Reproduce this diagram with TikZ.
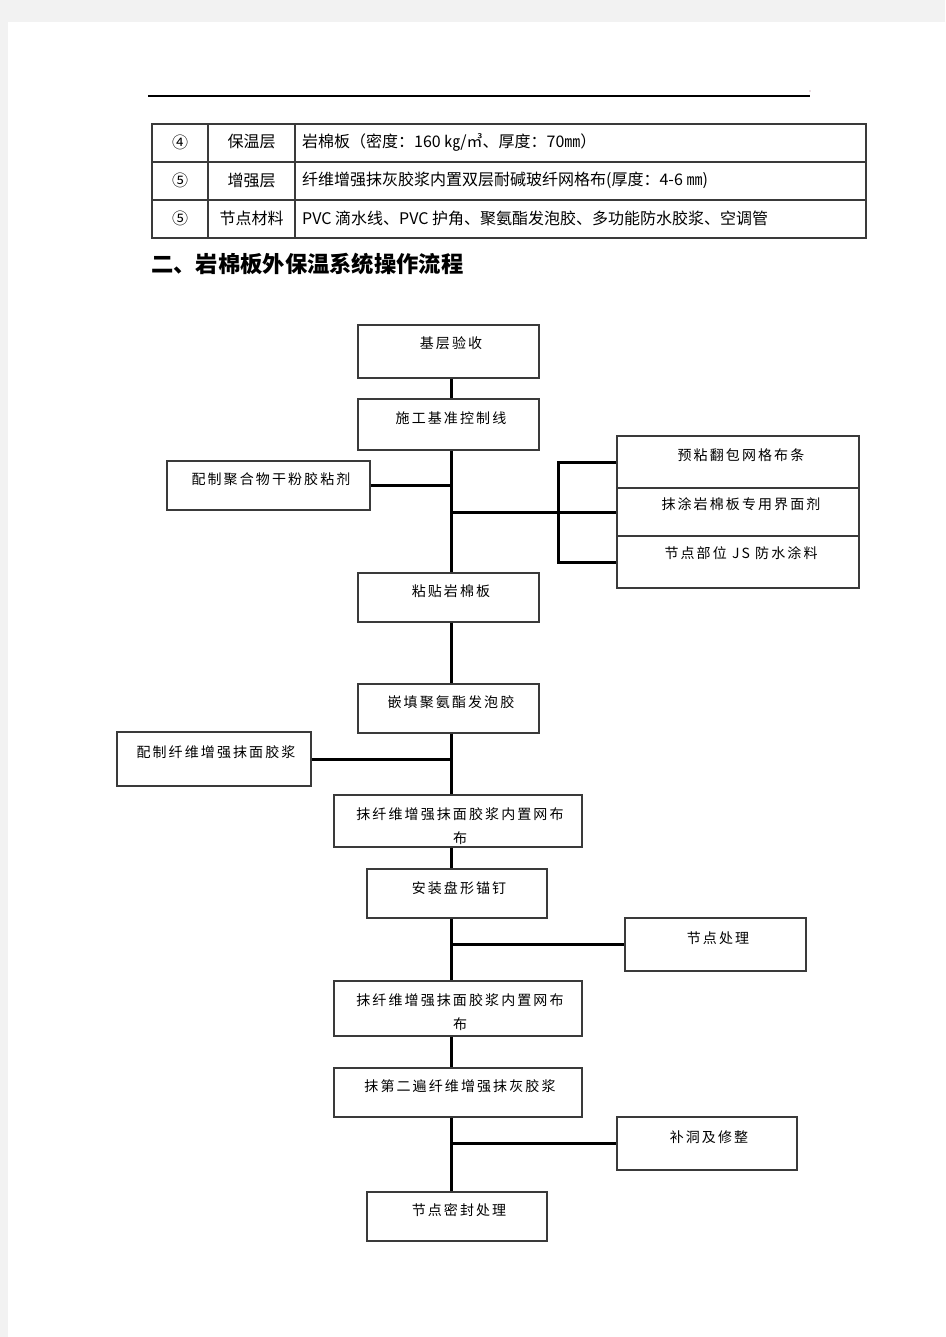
\documentclass[tikz,border=0pt]{standalone}
\usepackage{fontspec}
\newfontfamily\cjk{Noto Sans CJK SC}
\newfontfamily\cjkbox[LetterSpace=15]{Noto Sans CJK SC}
\usetikzlibrary{calc}
\definecolor{pagegray}{HTML}{F2F2F2}
\definecolor{edge}{HTML}{3A3A3A}
\begin{document}
\begin{tikzpicture}[x=1pt,y=-1pt,
  box/.style={draw=edge, line width=1.3pt, rectangle, inner sep=0pt},
  boxtext/.style={font=\cjkbox\fontsize{14}{24}\selectfont, inner sep=0pt, align=center},
  conn/.style={line width=3pt, black},
  tbl/.style={draw=edge, line width=1.3pt},
  tbltext/.style={font=\cjk\fontsize{16}{18}\selectfont, inner sep=0pt}]
\fill[pagegray] (0,0) rectangle (945,1337);
\fill[white] (8,22) rectangle (945,1337);
\useasboundingbox (0,0) rectangle (945,1337);

% header rule
\draw[line width=1.2pt] (148,96) -- (810,96);
\fill[orange!60!blue!40] (810,91) circle (0.9);

% table
\draw[tbl] (152,124) rectangle (866,238);
\draw[tbl] (152,162) -- (866,162);
\draw[tbl] (152,200) -- (866,200);
\draw[tbl] (208,124) -- (208,238);
\draw[tbl] (295,124) -- (295,238);
\node[tbltext] (n1) at (180,142) {④};
\node[tbltext] (n2) at (180,180) {⑤};
\node[tbltext] (n3) at (180,218) {⑤};
\node[tbltext] (c1) at (251.5,142) {保温层};
\node[tbltext] (c2) at (251.5,180) {增强层};
\node[tbltext] (c3) at (251.5,218) {节点材料};
\node[tbltext, anchor=west] (d1) at (302,142) {岩棉板（密度：160 ㎏/㎥、厚度：70㎜）};
\node[tbltext, anchor=west] (d2) at (302,180) {纤维增强抹灰胶浆内置双层耐碱玻纤网格布(厚度：4-6 ㎜)};
\node[tbltext, anchor=west] (d3) at (302,218) {PVC 滴水线、PVC 护角、聚氨酯发泡胶、多功能防水胶浆、空调管};

% title
\node[font=\cjk\bfseries\fontsize{22.3}{24}\selectfont, anchor=west, inner sep=0pt] (title) at (151,264) {二、岩棉板外保温系统操作流程};

% flow boxes
\node[box, minimum width=181, minimum height=53] (b1) at (448.5,351.5) {};
\node[boxtext] (t1) at (451,343) {基层验收};
\node[box, minimum width=181, minimum height=51] (b2) at (448.5,424.5) {};
\node[boxtext] (t2) at (451,418) {施工基准控制线};
\node[box, minimum width=203, minimum height=49] (b3) at (268.5,485.5) {};
\node[boxtext] (t3) at (271,479) {配制聚合物干粉胶粘剂};
\node[box, minimum width=242, minimum height=52] (r1) at (738,462) {};
\node[boxtext] (tr1) at (741,455) {预粘翻包网格布条};
\node[box, minimum width=242, minimum height=48] (r2) at (738,512) {};
\node[boxtext] (tr2) at (741,504) {抹涂岩棉板专用界面剂};
\node[box, minimum width=242, minimum height=52] (r3) at (738,562) {};
\node[boxtext] (tr3) at (741,553) {节点部位 JS 防水涂料};
\node[box, minimum width=181, minimum height=49] (b5) at (448.5,597.5) {};
\node[boxtext] (t5) at (451,591) {粘贴岩棉板};
\node[box, minimum width=181, minimum height=49] (b6) at (448.5,708.5) {};
\node[boxtext] (t6) at (451,702) {嵌填聚氨酯发泡胶};
\node[box, minimum width=194, minimum height=54] (b7) at (214,759) {};
\node[boxtext] (t7) at (216,752) {配制纤维增强抹面胶浆};
\node[box, minimum width=248, minimum height=52] (b8) at (458,821) {};
\node[boxtext] (t8) at (460,826) {抹纤维增强抹面胶浆内置网布\\布};
\node[box, minimum width=180, minimum height=49] (b9) at (457,893.5) {};
\node[boxtext] (t9) at (459,888) {安装盘形锚钉};
\node[box, minimum width=181, minimum height=53] (b10) at (715.5,944.5) {};
\node[boxtext] (t10) at (718,938) {节点处理};
\node[box, minimum width=248, minimum height=55] (b11) at (458,1008.5) {};
\node[boxtext] (t11) at (460,1012) {抹纤维增强抹面胶浆内置网布\\布};
\node[box, minimum width=248, minimum height=49] (b12) at (458,1092.5) {};
\node[boxtext] (t12) at (460,1086) {抹第二遍纤维增强抹灰胶浆};
\node[box, minimum width=180, minimum height=53] (b13) at (707,1143.5) {};
\node[boxtext] (t13) at (709,1137) {补洞及修整};
\node[box, minimum width=180, minimum height=49] (b14) at (457,1216.5) {};
\node[boxtext] (t14) at (459,1210) {节点密封处理};

% connectors
\coordinate (spine) at (451,0);
\coordinate (bk) at (558.5,0);
\draw[conn] (b1.south -| spine) -- (b2.north -| spine);
\draw[conn] (b2.south -| spine) -- (b5.north -| spine);
\draw[conn] (b3.east) -- (b3.east -| spine);
\draw[conn] (spine |- r2.west) -- (r2.west);
\draw[conn] (r1.west) -- (r1.west -| bk) -- (r3.west -| bk) -- (r3.west);
\draw[conn] (b5.south -| spine) -- (b6.north -| spine);
\draw[conn] (b6.south -| spine) -- (b8.north -| spine);
\draw[conn] (b7.east) -- (b7.east -| spine);
\draw[conn] (b8.south -| spine) -- (b9.north -| spine);
\draw[conn] (b9.south -| spine) -- (b11.north -| spine);
\draw[conn] (spine |- b10.west) -- (b10.west);
\draw[conn] (b11.south -| spine) -- (b12.north -| spine);
\draw[conn] (b12.south -| spine) -- (b14.north -| spine);
\draw[conn] (spine |- b13.west) -- (b13.west);
\end{tikzpicture}
\end{document}
